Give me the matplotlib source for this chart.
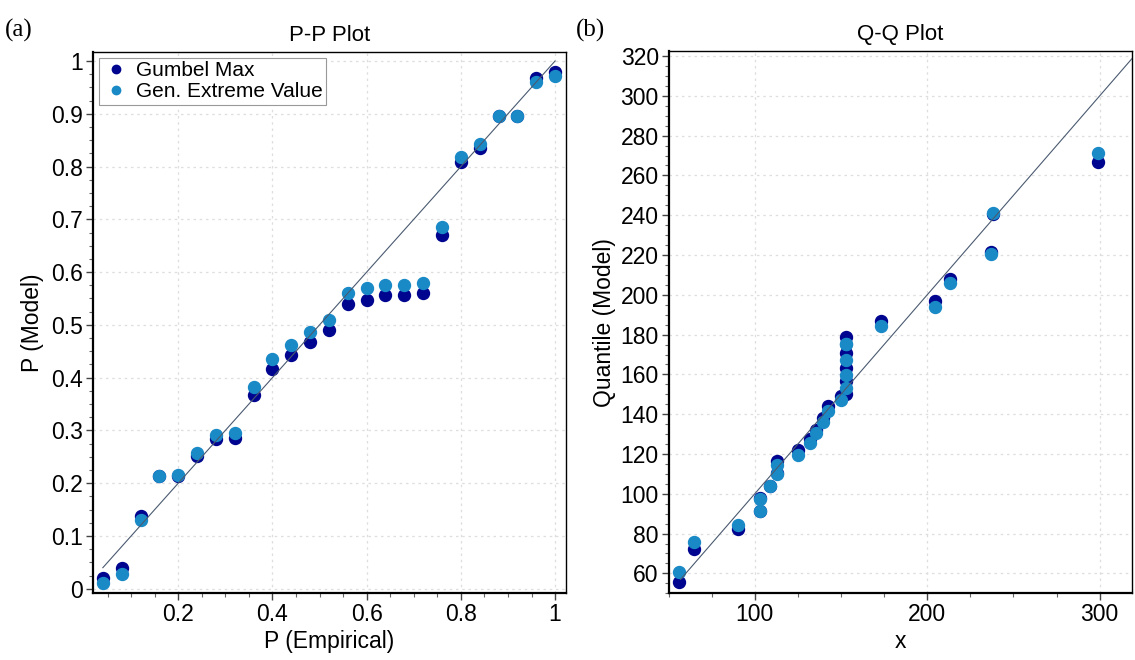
import numpy as np
import matplotlib.pyplot as plt
from matplotlib.ticker import AutoMinorLocator

plt.rcParams['font.family'] = ['Liberation Sans', 'DejaVu Sans']

# P-P plot data
pp_emp = [0.04, 0.08, 0.12, 0.16, 0.20, 0.24, 0.28, 0.32, 0.36, 0.40, 0.44, 0.48, 0.52,
          0.56, 0.60, 0.64, 0.68, 0.72, 0.76, 0.80, 0.84, 0.88, 0.92, 0.96, 1.00]
pp_gumbel = [0.021, 0.039, 0.137, 0.214, 0.214, 0.251, 0.283, 0.286, 0.367, 0.417, 0.443,
             0.468, 0.491, 0.540, 0.548, 0.557, 0.557, 0.561, 0.670, 0.809, 0.836, 0.895,
             0.895, 0.967, 0.979]
pp_gev = [0.011, 0.028, 0.130, 0.214, 0.215, 0.257, 0.292, 0.295, 0.382, 0.436, 0.462,
          0.487, 0.510, 0.561, 0.569, 0.576, 0.576, 0.580, 0.686, 0.818, 0.843, 0.896,
          0.896, 0.961, 0.972]

# Q-Q plot data
qq_x = [56, 65, 90, 103, 103, 108.7, 113, 113, 124.8, 132, 135.5, 139.4, 142.6,
        150, 152.9, 152.9, 152.9, 152.9, 152.9, 173.3, 204.8, 213.4, 236.8, 238.4, 299.2]
qq_gumbel = [55.8, 72.5, 82.4, 91.6, 97.8, 104.1, 110.4, 116.3, 122.2, 127.6, 132.2, 138.1,
             143.9, 149.0, 150.2, 156.5, 163.2, 170.7, 178.6, 186.6, 197.0, 208.0, 221.7,
             240.5, 266.9]
qq_gev = [60.8, 75.7, 84.4, 91.4, 97.6, 104.1, 110.0, 114.3, 119.7, 125.6, 130.6, 135.9,
          141.8, 147.3, 153.2, 159.9, 167.4, 175.2, 175.2, 184.1, 194.1, 205.9, 220.6,
          241.0, 271.4]

dark = '#00058f'
light = '#1a8ac6'
line_c = '#4a5a70'
fs = 16.5

fig = plt.figure(figsize=(11.35, 6.6), dpi=100)
ax1 = fig.add_axes([0.0819, 0.1015, 0.4167, 0.8197])
ax2 = fig.add_axes([0.589, 0.1011, 0.408, 0.8212])


def style(ax):
    for s in ['top', 'right']:
        ax.spines[s].set_linewidth(1.0)
    for s in ['left', 'bottom']:
        ax.spines[s].set_linewidth(1.6)
    ax.tick_params(which='major', direction='out', length=5, width=1, labelsize=fs,
                   color='#444444', pad=2)
    ax.tick_params(which='minor', direction='out', length=3, width=0.8, color='#666666')
    ax.xaxis.set_minor_locator(AutoMinorLocator(4))
    ax.yaxis.set_minor_locator(AutoMinorLocator(4))
    ax.grid(True, which='major', color='#dedede', linestyle=(0, (2, 3)), linewidth=0.9)
    ax.set_axisbelow(True)


# (a) P-P plot
style(ax1)
ax1.plot(pp_emp, pp_gumbel, 'o', color=dark, ms=8.6, label='Gumbel Max', zorder=3)
ax1.plot(pp_emp, pp_gev, 'o', color=light, ms=8.6, label='Gen. Extreme Value', zorder=3)
ax1.plot([pp_emp[0], pp_emp[-1]], [pp_emp[0], pp_emp[-1]], color=line_c, lw=0.8, zorder=4)
ax1.set_xlim(0.019, 1.023)
ax1.set_ylim(-0.008, 1.017)
ax1.set_xticks([0.2, 0.4, 0.6, 0.8, 1.0])
ax1.set_xticklabels(['0.2', '0.4', '0.6', '0.8', '1'])
ax1.set_yticks(np.arange(0, 1.01, 0.1))
ax1.set_yticklabels(['0', '0.1', '0.2', '0.3', '0.4', '0.5', '0.6', '0.7', '0.8', '0.9', '1'])
ax1.xaxis.set_minor_locator(AutoMinorLocator(4))
ax1.yaxis.set_minor_locator(AutoMinorLocator(4))
ax1.set_xlabel('P (Empirical)', fontsize=fs, labelpad=3)
ax1.set_ylabel('P (Model)', fontsize=fs, labelpad=5)
ax1.set_title('P-P Plot', fontsize=16, pad=8)
leg = ax1.legend(loc='upper left', fontsize=15, markerscale=0.7, handletextpad=0.3,
                 borderaxespad=0.3, borderpad=0.15, labelspacing=0.1, handlelength=1.3,
                 fancybox=False, framealpha=1)
leg.get_frame().set_edgecolor('#999999')
leg.get_frame().set_linewidth(0.8)

# (b) Q-Q plot
style(ax2)
ax2.plot(qq_x, qq_gumbel, 'o', color=dark, ms=8.6, zorder=3)
ax2.plot(qq_x, qq_gev, 'o', color=light, ms=8.6, zorder=3)
ax2.plot([57, 320], [57, 320], color=line_c, lw=0.8, zorder=4)
ax2.set_xlim(50, 318.5)
ax2.set_ylim(50, 322.4)
ax2.set_xticks([100, 200, 300])
ax2.set_yticks(np.arange(60, 321, 20))
ax2.xaxis.set_minor_locator(AutoMinorLocator(4))
ax2.yaxis.set_minor_locator(AutoMinorLocator(4))
ax2.set_xlabel('x', fontsize=fs, labelpad=3)
ax2.set_ylabel('Quantile (Model)', fontsize=fs, labelpad=3)
ax2.set_title('Q-Q Plot', fontsize=16, pad=8)

fig.text(0.004, 0.945, '(a)', fontsize=18, family=['Liberation Serif', 'DejaVu Serif'])
fig.text(0.507, 0.945, '(b)', fontsize=18, family=['Liberation Serif', 'DejaVu Serif'])

fig.savefig('out.png', dpi=100)
